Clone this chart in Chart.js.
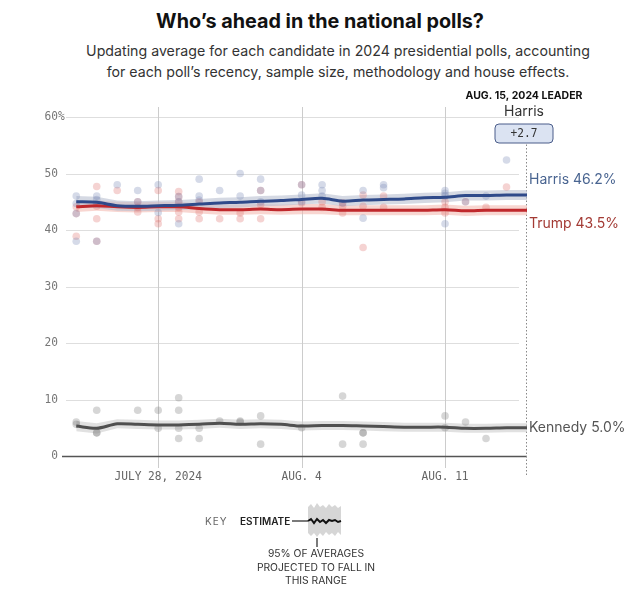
<!DOCTYPE html>
<html>
<head>
<meta charset="utf-8">
<script src="https://cdn.jsdelivr.net/npm/chart.js@4.4.1/dist/chart.umd.min.js"></script>
<style>
  body { margin: 0; width: 640px; height: 590px; background: #fff; position: relative; overflow: hidden; font-family: Inter, "Noto Sans", sans-serif; }
  #title { position: absolute; top: 9px; left: 0; width: 640px; text-align: center; font-weight: 700; font-size: 19.8px; color: #111; }
  #sub { position: absolute; top: 40px; left: 18px; width: 640px; text-align: center; font-size: 14.2px; line-height: 21px; color: #333; }
  #chart { position: absolute; left: 0; top: 0; }
  #key { position: absolute; left: 0; top: 495px; }
</style>
</head>
<body>
<div id="title">Who’s ahead in the national polls?</div>
<div id="sub">Updating average for each candidate in 2024 presidential polls, accounting<br>for each poll’s recency, sample size, methodology and house effects.</div>
<canvas id="chart" width="640" height="590"></canvas>
<svg id="key" width="640" height="95">
  <text x="205" y="30" font-size="10" fill="#666" letter-spacing="1" font-family="Inter, sans-serif">KEY</text>
  <text x="240" y="30" font-size="10" fill="#222" font-weight="600" font-family="Inter, sans-serif">ESTIMATE</text>
  <line x1="292" y1="26" x2="309" y2="26" stroke="#222" stroke-width="1.2"/>
  <polygon points="308,12 311,9 314,13 317,8 320,12 323,10 326,13 329,9 332,12 335,10 338,13 341,11 341,40 338,37 335,41 332,38 329,40 326,37 323,41 320,38 317,42 314,38 311,41 308,38" fill="#d6d6d6"/>
  <polyline points="308,26 311,24 314,28 317,24 320,27 323,25 326,28 329,25 332,26 335,25 338,27 341,26" fill="none" stroke="#111" stroke-width="2"/>
  <line x1="317" y1="43" x2="317" y2="52" stroke="#222" stroke-width="1.2"/>
  <text x="316" y="62" font-size="10.3" fill="#333" text-anchor="middle" font-family="Inter, sans-serif">95% OF AVERAGES</text>
  <text x="316" y="75.5" font-size="10.3" fill="#333" text-anchor="middle" font-family="Inter, sans-serif">PROJECTED TO FALL IN</text>
  <text x="316" y="89" font-size="10.3" fill="#333" text-anchor="middle" font-family="Inter, sans-serif">THIS RANGE</text>
</svg>
<script>
// polling averages, one per day
const estDates = ["07-24","07-25","07-26","07-27","07-28","07-29","07-30","07-31","08-01","08-02","08-03","08-04",
                  "08-05","08-06","08-07","08-08","08-09","08-10","08-11","08-12","08-13","08-14","08-15"];
const harrisEst = [45.0,44.9,44.3,44.2,44.3,44.4,44.6,44.8,44.9,45.1,45.2,45.4,45.6,45.1,45.3,45.4,45.5,45.7,45.8,46.1,46.1,46.2,46.2];
const harrisHi  = [46.0,45.9,45.2,45.1,45.2,45.3,45.5,45.7,45.8,46.0,46.1,46.3,46.5,46.0,46.2,46.3,46.4,46.6,46.7,47.0,47.0,47.1,47.1];
const harrisLo  = [44.0,43.9,43.4,43.3,43.4,43.5,43.7,43.9,44.0,44.2,44.3,44.5,44.7,44.2,44.4,44.5,44.6,44.8,44.9,45.2,45.2,45.3,45.3];
const trumpEst  = [44.1,44.3,44.1,44.0,44.1,44.1,43.8,43.6,43.6,43.7,43.6,43.7,43.7,43.5,43.5,43.5,43.5,43.5,43.6,43.4,43.5,43.5,43.5];
const trumpHi   = [45.0,45.2,45.0,44.9,45.0,45.0,44.7,44.5,44.5,44.6,44.5,44.6,44.6,44.4,44.4,44.4,44.4,44.4,44.5,44.3,44.4,44.4,44.4];
const trumpLo   = [43.2,43.4,43.2,43.1,43.2,43.2,42.9,42.7,42.7,42.8,42.7,42.8,42.8,42.6,42.6,42.6,42.6,42.6,42.7,42.5,42.6,42.6,42.6];
const kennedyEst = [5.3,4.9,5.7,5.6,5.5,5.5,5.6,5.8,5.6,5.7,5.6,5.3,5.4,5.4,5.3,5.2,5.1,5.1,5.1,4.9,4.9,5.0,5.0];
const kennedyHi  = [6.2,5.8,6.5,6.4,6.3,6.3,6.4,6.6,6.4,6.5,6.4,6.1,6.2,6.2,6.1,6.0,5.9,5.9,5.9,5.7,5.7,5.8,5.8];
const kennedyLo  = [4.4,4.0,4.9,4.8,4.7,4.7,4.8,5.0,4.8,4.9,4.8,4.5,4.6,4.6,4.5,4.4,4.3,4.3,4.3,4.1,4.1,4.2,4.2];

// individual polls [date, value]
const harrisPolls = [["07-24",46.0],["07-24",44.7],["07-24",42.9],["07-24",38.0],["07-25",46.0],["07-25",45.4],["07-25",44.6],["07-25",38.0],
  ["07-26",48.0],["07-27",47.0],["07-27",45.0],["07-28",48.0],["07-28",43.1],["07-29",45.9],["07-29",45.0],["07-29",41.1],
  ["07-30",49.0],["07-30",46.0],["07-30",45.3],["07-31",47.0],["08-01",50.0],["08-01",46.0],["08-02",49.0],["08-02",47.0],["08-02",45.0],
  ["08-04",48.0],["08-04",46.2],["08-04",45.0],["08-05",48.0],["08-05",47.0],["08-05",46.0],["08-06",44.8],["08-07",47.0],["08-07",42.1],
  ["08-08",48.0],["08-08",47.5],["08-11",47.0],["08-11",46.5],["08-11",46.0],["08-11",41.1],["08-12",45.0],["08-13",46.0],["08-14",52.4]];
const trumpPolls = [["07-24",44.1],["07-24",42.9],["07-24",38.9],["07-25",47.7],["07-25",44.2],["07-25",42.0],["07-25",38.0],
  ["07-26",47.0],["07-27",45.0],["07-27",44.0],["07-27",43.2],["07-28",47.0],["07-28",42.0],["07-28",41.1],
  ["07-29",46.8],["07-29",45.9],["07-29",45.0],["07-29",44.0],["07-29",43.2],["07-29",42.0],["07-30",45.0],["07-30",43.2],["07-30",42.0],
  ["07-31",42.0],["08-01",43.0],["08-01",42.0],["08-02",47.0],["08-02",44.5],["08-02",42.0],["08-04",48.0],["08-04",44.8],
  ["08-05",45.0],["08-05",44.0],["08-06",44.8],["08-06",44.2],["08-06",43.0],["08-07",46.2],["08-07",44.2],["08-07",36.9],
  ["08-08",46.0],["08-08",44.0],["08-11",45.0],["08-11",44.0],["08-11",43.0],["08-12",45.0],["08-13",44.0],["08-14",47.6]];
const kennedyPolls = [["07-24",6.0],["07-24",5.6],["07-25",8.1],["07-25",4.1],["07-25",4.1],["07-27",8.1],["07-28",8.1],["07-28",4.9],
  ["07-29",10.3],["07-29",8.1],["07-29",4.9],["07-29",3.1],["07-30",4.9],["07-30",3.1],["07-31",6.2],["08-01",6.2],["08-01",6.0],
  ["08-02",7.1],["08-02",2.1],["08-04",5.0],["08-06",10.6],["08-06",2.1],["08-07",4.1],["08-07",4.1],["08-07",2.1],
  ["08-11",7.1],["08-11",5.0],["08-12",6.0],["08-13",3.1]];

const yTicks = [0, 10, 20, 30, 40, 50, 60];
const xTickDates = ["07-28", "08-04", "08-11"];
const xTickLabels = ["JULY 28, 2024", "AUG. 4", "AUG. 11"];
const leaderDate = "08-15";

// days since July 28
function dayNum(s) {
  const [m, d] = s.split('-').map(Number);
  return (Date.UTC(2024, m - 1, d) - Date.UTC(2024, 6, 28)) / 864e5;
}
const series = vals => vals.map((v, i) => ({ x: dayNum(estDates[i]), y: v }));
const polls = arr => arr.map(p => ({ x: dayNum(p[0]), y: p[1] }));

function band(lo, hi, color) {
  return [
    { data: series(lo), borderWidth: 0, pointRadius: 0, fill: false, order: 20 },
    { data: series(hi), borderWidth: 0, pointRadius: 0, fill: '-1', backgroundColor: color, order: 20 }
  ];
}
function dots(arr, color) {
  return { data: polls(arr), showLine: false, pointRadius: 3.8, pointBorderWidth: 0, pointBackgroundColor: color, order: 10 };
}
function line(vals, color, order) {
  return { data: series(vals), borderColor: color, borderWidth: 3, pointRadius: 0, tension: 0.3, fill: false, order };
}

const mono = '"DejaVu Sans Mono", monospace';

// condensed tick text, like the original's narrow axis face
function narrowText(ctx, txt, x, y, align) {
  const sx = 0.86;
  ctx.save();
  ctx.translate(x, y);
  ctx.scale(sx, 1);
  ctx.textAlign = align;
  ctx.fillText(txt, 0, 0);
  ctx.restore();
}

const overlay = {
  id: 'overlay',
  beforeDraw(chart) {
    const { ctx, chartArea: a, scales: { x, y } } = chart;
    ctx.save();
    ctx.lineWidth = 1;
    ctx.strokeStyle = '#dedede';
    yTicks.forEach(v => {
      if (v === 0) return;
      const py = Math.round(y.getPixelForValue(v)) + 0.5;
      ctx.beginPath(); ctx.moveTo(a.left, py); ctx.lineTo(a.right - 8, py); ctx.stroke();
    });
    ctx.strokeStyle = '#cccccc';
    xTickDates.forEach(d => {
      const px = Math.round(x.getPixelForValue(dayNum(d))) + 0.5;
      ctx.beginPath(); ctx.moveTo(px, a.top - 10); ctx.lineTo(px, a.bottom + 12); ctx.stroke();
    });
    // zero baseline
    const y0 = Math.round(y.getPixelForValue(0)) + 0.5;
    ctx.strokeStyle = '#555'; ctx.lineWidth = 1.5;
    ctx.beginPath(); ctx.moveTo(a.left - 4, y0); ctx.lineTo(a.right, y0); ctx.stroke();
    // leader date marker
    const lx = Math.round(x.getPixelForValue(dayNum(leaderDate))) - 0.5;
    ctx.strokeStyle = '#888'; ctx.lineWidth = 1; ctx.setLineDash([1.5, 2]);
    ctx.beginPath(); ctx.moveTo(lx, a.top + 24); ctx.lineTo(lx, a.bottom + 20); ctx.stroke();
    ctx.restore();
  },
  afterDraw(chart) {
    const { ctx, chartArea: a, scales: { x, y } } = chart;
    ctx.save();
    // y tick labels
    ctx.font = '13px ' + mono;
    ctx.fillStyle = '#777';
    ctx.textBaseline = 'middle';
    yTicks.forEach(v => {
      const py = y.getPixelForValue(v);
      narrowText(ctx, String(v), 58, py, 'right');
      if (v === 60) narrowText(ctx, '%', 58, py, 'left');
    });
    // x tick labels
    ctx.fillStyle = '#666';
    xTickDates.forEach((d, i) => narrowText(ctx, xTickLabels[i], x.getPixelForValue(dayNum(d)), a.bottom + 21, 'center'));

    // end labels
    const ex = a.right + 2;
    const last = harrisEst.length - 1;
    ctx.textAlign = 'left';
    ctx.font = '14px Inter, "Noto Sans", sans-serif';
    ctx.fillStyle = '#4a6591';
    ctx.fillText('Harris ' + harrisEst[last].toFixed(1) + '%', ex, y.getPixelForValue(harrisEst[last]) - 15);
    ctx.fillStyle = '#a33a34';
    ctx.fillText('Trump ' + trumpEst[last].toFixed(1) + '%', ex, y.getPixelForValue(trumpEst[last]) + 14);
    ctx.fillStyle = '#555';
    ctx.fillText('Kennedy ' + kennedyEst[last].toFixed(1) + '%', ex, y.getPixelForValue(kennedyEst[last]));

    // leader box
    const lx = x.getPixelForValue(dayNum(leaderDate)) - 3;
    ctx.textAlign = 'center';
    ctx.fillStyle = '#111';
    ctx.font = 'bold 10.5px Inter, "Noto Sans", sans-serif';
    ctx.fillText('AUG. 15, 2024 LEADER', lx, 96);
    ctx.font = '14px Inter, "Noto Sans", sans-serif';
    ctx.fillStyle = '#333';
    ctx.fillText('Harris', lx, 112);
    const lead = (harrisEst[last] - trumpEst[last]).toFixed(1);
    ctx.beginPath();
    ctx.roundRect(lx - 29, 124, 58, 19, 4);
    ctx.fillStyle = '#dbe3f2'; ctx.fill();
    ctx.strokeStyle = '#4a5d8a'; ctx.lineWidth = 1; ctx.stroke();
    ctx.fillStyle = '#333';
    ctx.font = '13px ' + mono;
    narrowText(ctx, '+' + lead, lx, 134, 'center');
    ctx.restore();
  }
};

new Chart(document.getElementById('chart'), {
  type: 'line',
  data: {
    datasets: [
      ...band(harrisLo, harrisHi, 'rgba(185,192,208,0.6)'),
      ...band(trumpLo, trumpHi, 'rgba(242,180,172,0.55)'),
      ...band(kennedyLo, kennedyHi, 'rgba(205,205,205,0.6)'),
      dots(harrisPolls, 'rgba(125,140,185,0.32)'),
      dots(trumpPolls, 'rgba(222,110,105,0.3)'),
      dots(kennedyPolls, 'rgba(120,120,120,0.3)'),
      line(harrisEst, '#2f4a8a', 0),
      line(trumpEst, '#c0282c', 1),
      line(kennedyEst, '#505050', 1)
    ]
  },
  options: {
    responsive: false,
    animation: false,
    devicePixelRatio: 1,
    layout: { padding: { left: 66, right: 113, top: 117, bottom: 134 } },
    scales: {
      x: { type: 'linear', display: false, min: -4.5, max: 18 },
      y: { display: false, min: 0, max: 60 }
    },
    plugins: {
      legend: { display: false },
      tooltip: { enabled: false },
      filler: { drawTime: 'beforeDatasetsDraw' }
    }
  },
  plugins: [overlay]
});
</script>
</body>
</html>
